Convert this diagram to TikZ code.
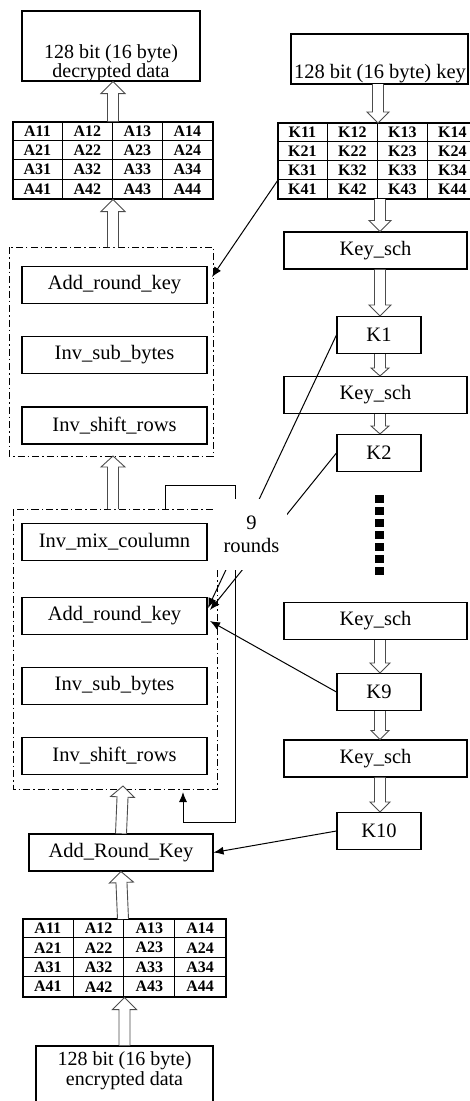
\documentclass[tikz,border=0pt]{standalone}
\usepackage{fontspec}
\setmainfont{Liberation Serif}
\usetikzlibrary{calc,arrows.meta}

% allow two text lines to sit closer than their glyph boxes
\newcommand\tightlines{\lineskiplimit=-50pt\relax}

\tikzset{
  box/.style={draw, line width=1.1pt, minimum height=37pt, inner sep=0pt,
    font=\fontsize{20.5}{23}\selectfont},
  rbox/.style={box, minimum width=185pt},
  kbox/.style={box, minimum width=84pt},
  schbox/.style={box, minimum width=183pt},
  frame/.style={draw, line width=1pt, dash pattern=on 7pt off 3pt on 1.5pt off 3pt},
  thin/.style={line width=1pt, -{Latex[length=10pt,width=8pt]}},
  tablebox/.style={draw, line width=1.1pt, inner sep=0pt},
  gridline/.style={line width=1pt},
  celltext/.style={inner sep=0pt, font=\bfseries\fontsize{16}{16}\selectfont},
  hollowfill/.style={fill=white},
  hollowline/.style={draw=black!70, line width=0.9pt, line join=miter},
  txt/.style={inner sep=0pt, align=center, font=\fontsize{20.5}{23}\selectfont\tightlines},
}

% hollow block arrow: tail, tip, head length, head half width
\newcommand\harrow[4]{%
  \coordinate (hS) at (#1);
  \coordinate (hT) at (#2);
  \coordinate (hB) at ($(hT)!#3!(hS)$);
  \fill[hollowfill] ($(hS)!5.5pt!90:(hT)$) -- ($(hB)!5.5pt!-90:(hS)$) -- ($(hB)!#4!-90:(hS)$)
    -- (hT) -- ($(hB)!#4!90:(hS)$) -- ($(hB)!5.5pt!90:(hS)$) -- ($(hS)!5.5pt!-90:(hT)$) -- cycle;
  \draw[hollowline] ($(hS)!5.5pt!90:(hT)$) -- ($(hB)!5.5pt!-90:(hS)$) -- ($(hB)!#4!-90:(hS)$)
    -- (hT) -- ($(hB)!#4!90:(hS)$) -- ($(hB)!5.5pt!90:(hS)$) -- ($(hS)!5.5pt!-90:(hT)$);
}

% 4x4 state table: name, centre x, centre y, total width, total height, letter
\newcommand\statetable[6]{%
  \node[tablebox, minimum width=#4, minimum height=#5] (#1) at (#2,#3) {};
  \foreach \c in {1,2,3}
    \draw[gridline] ($(#1.north west)+({\c*#4/4},0)$) -- ($(#1.south west)+({\c*#4/4},0)$);
  \foreach \r in {1,2,3}
    \draw[gridline] ($(#1.north west)+(0,{\r*#5/4})$) -- ($(#1.north east)+(0,{\r*#5/4})$);
  \foreach \r in {1,...,4}
    \foreach \c in {1,...,4}
      \node[celltext] (#1-\r-\c) at ($(#1.north west)+({(\c-0.5)*#4/4},{(\r-0.5)*#5/4})$) {#6\r\c};
}

\begin{document}
\begin{tikzpicture}[x=1pt,y=-1pt]
\useasboundingbox (0,0) rectangle (470,1101);

% ---------- decryption data path (left) ----------
\node[box, minimum width=178pt, minimum height=70pt] (dec) at (111,46) {};
\node[txt, font=\fontsize{20}{19}\selectfont\tightlines] (dectxt) at (111,63)
  {128 bit (16 byte)\\decrypted data};

\statetable{atop}{113}{160.5}{200}{77}{A}

\draw[frame] (9,247) rectangle (213,456);
\coordinate (dash1n) at (113,247);
\coordinate (dash1s) at (113,456);
\node[rbox] (ark1) at (114.5,285) {Add\_round\_key};
\node[rbox] (isb1) at (114.5,355) {Inv\_sub\_bytes};
\node[rbox] (isr1) at (114.5,425.5) {Inv\_shift\_rows};

\draw[frame] (13,509) rectangle (217,789);
\coordinate (dash2n) at (113,509);
\node[rbox] (imc) at (114.5,542) {Inv\_mix\_coulumn};
\node[rbox] (ark2) at (114.5,616) {Add\_round\_key};
\node[rbox] (isb2) at (114.5,686) {Inv\_sub\_bytes};
\node[rbox] (isr2) at (114.5,756) {Inv\_shift\_rows};

\node[box, minimum width=184pt] (ARK) at (121,852.5) {Add\_Round\_Key};

\statetable{abot}{124.5}{958}{203}{78}{A}

\node[box, minimum width=177pt, minimum height=74pt] (enc) at (124.5,1083) {};
\node[txt, font=\fontsize{20}{20}\selectfont\tightlines] (enctxt) at (124.5,1071)
  {128 bit (16 byte)\\encrypted data};

% ---------- key schedule (right) ----------
\node[box, minimum width=177pt, minimum height=50pt] (key) at (379.5,59) {};
\node[txt] (keytxt) at (380,74) {128 bit (16 byte) key};

\statetable{ktab}{378}{161}{200}{76}{K}

\node[schbox] (ks1) at (375.5,250.5) {Key\_sch};
\node[kbox] (k1) at (379,335) {K1};
\node[schbox] (ks2) at (375.5,395) {Key\_sch};
\node[kbox] (k2) at (379,453) {K2};
\coordinate (dotsA) at (379,495);
\coordinate (dotsB) at (379,575);
\draw[line width=9pt, dash pattern=on 8pt off 4pt] (dotsA) -- (dotsB);
\node[schbox] (ks3) at (375.5,621) {Key\_sch};
\node[kbox] (k9) at (379,692) {K9};
\node[schbox] (ks4) at (375.5,758.5) {Key\_sch};
\node[kbox] (k10) at (379,831) {K10};

% ---------- hollow block arrows ----------
\harrow{atop.north}{atop.north |- dec.south}{12pt}{12pt}
\harrow{dash1n}{atop.south}{12pt}{12pt}
\harrow{dash2n}{dash1s}{11pt}{12pt}
\harrow{ARK.north}{123,786}{11pt}{12pt}
\harrow{123,919}{ARK.south}{11pt}{12pt}
\harrow{enc.north -| abot.south}{abot.south}{12pt}{12pt}

\harrow{378,84}{378,123}{11pt}{11pt}
\harrow{380,199}{ks1.north -| 380,0}{11pt}{11pt}
\harrow{ks1.south -| 380,0}{k1.north -| 380,0}{11pt}{11pt}
\harrow{k1.south -| 380,0}{ks2.north -| 380,0}{8pt}{9pt}
\harrow{ks2.south -| 380,0}{k2.north -| 380,0}{8pt}{9pt}
\harrow{ks3.south -| 380,0}{k9.north -| 380,0}{10pt}{10pt}
\harrow{k9.south -| 380,0}{ks4.north -| 380,0}{9pt}{9pt}
\harrow{ks4.south -| 380,0}{k10.north -| 380,0}{10pt}{10pt}

% ---------- round key connectors ----------
\coordinate (kfrom) at (278,180);
\coordinate (ark1in) at (212,277);
\draw[thin] (kfrom) -- (ark1in);

\coordinate (ark2inA) at (208,608);
\coordinate (ark2inB) at (210,610);
\coordinate (ark2inC) at (210,621);
\draw[thin] (k1.west) -- (ark2inA);
\draw[thin] (k2.west) -- (ark2inB);
\draw[thin] (k9.west) -- (ark2inC);
\draw[thin] (k10.west) -- (ARK.east);

% loop round the nine middle rounds
\coordinate (loopA) at (165,509);
\coordinate (loopB) at (235,485);
\coordinate (loopC) at (183,822);
\coordinate (loopD) at (183,792);
\draw[thin] (loopA) -- (loopA |- loopB) -- (loopB) -- (loopB |- loopC) -- (loopC) -- (loopD);

\node[txt, fill=white, minimum width=71pt, minimum height=71pt] (rounds) at (251.5,534.5)
  {9\\rounds};
\end{tikzpicture}
\end{document}
